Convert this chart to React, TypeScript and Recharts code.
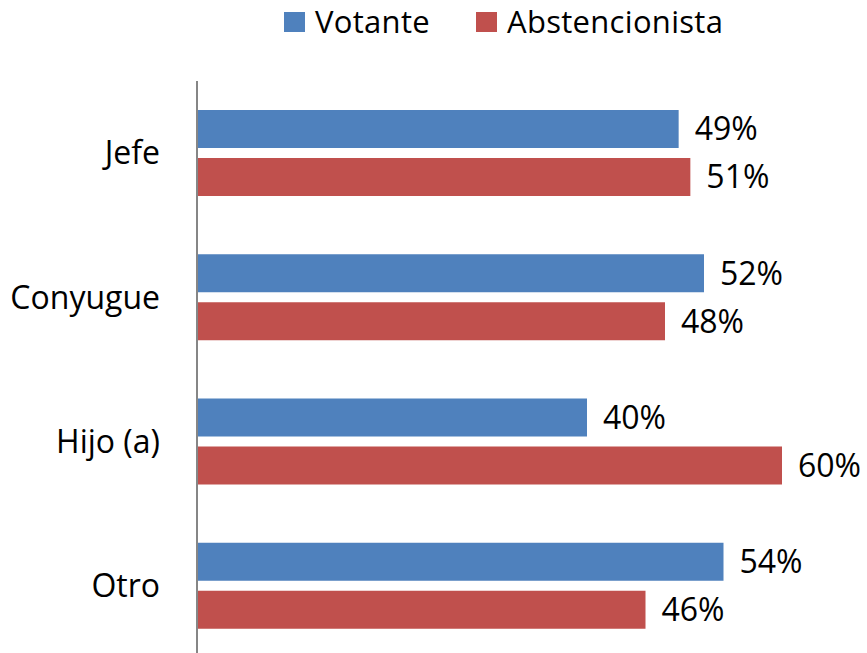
import { Bar, BarChart, LabelList, XAxis, YAxis } from "recharts";

const categorias = ["Jefe", "Conyugue", "Hijo (a)", "Otro"];
const votante = [49.4, 52, 40, 54];
const abstencionista = [50.6, 48, 60, 46];

const series = [
  { key: "Votante", color: "#4F81BD", values: votante },
  { key: "Abstencionista", color: "#C0504D", values: abstencionista },
];

const FONT = "'Open Sans', sans-serif";

const rows = categorias.map((c, i) => {
  const row: Record<string, string | number> = { cat: c };
  series.forEach((s) => {
    row[s.key] = s.values[i];
  });
  return row;
});

const pct = (v: unknown) => `${Math.round(Number(v))}%`;

function Leyenda() {
  const pos = [
    { sq: 284, txt: 315 },
    { sq: 476, txt: 507 },
  ];
  return (
    <div style={{ position: "absolute", top: 0, left: 0, width: 867, height: 48 }}>
      {series.map((s, i) => (
        <div key={s.key}>
          <div
            style={{
              position: "absolute",
              left: pos[i].sq,
              top: 12,
              width: 21,
              height: 20,
              background: s.color,
            }}
          />
          <div
            style={{
              position: "absolute",
              left: pos[i].txt,
              top: 0,
              fontFamily: FONT,
              fontSize: 31,
              letterSpacing: 0.3,
              lineHeight: "normal",
              color: "#000",
              whiteSpace: "nowrap",
            }}
          >
            {s.key}
          </div>
        </div>
      ))}
    </div>
  );
}

export default function App() {
  return (
    <div
      style={{
        position: "fixed",
        top: 0,
        left: 0,
        width: 867,
        height: 653,
        overflow: "hidden",
        background: "#fff",
      }}
    >
      <Leyenda />
      <BarChart
        width={867}
        height={658}
        data={rows}
        layout="vertical"
        barSize={38}
        barGap={10}
        margin={{ top: 81, right: 85, bottom: 0, left: 0 }}
        style={{ position: "absolute", top: 0, left: 0 }}
      >
        <XAxis type="number" domain={[0, 60]} hide />
        <YAxis
          type="category"
          dataKey="cat"
          width={197}
          tickLine={false}
          tickSize={0}
          tickMargin={37}
          axisLine={{ stroke: "#868686", strokeWidth: 2 }}
          tick={{ fontFamily: FONT, fontSize: 32, fill: "#000" }}
        />
        {series.map((s) => (
          <Bar key={s.key} dataKey={s.key} fill={s.color} isAnimationActive={false}>
            <LabelList
              dataKey={s.key}
              position="right"
              offset={16}
              formatter={pct}
              style={{ fontFamily: FONT, fontSize: 32, fill: "#000" }}
            />
          </Bar>
        ))}
      </BarChart>
    </div>
  );
}
